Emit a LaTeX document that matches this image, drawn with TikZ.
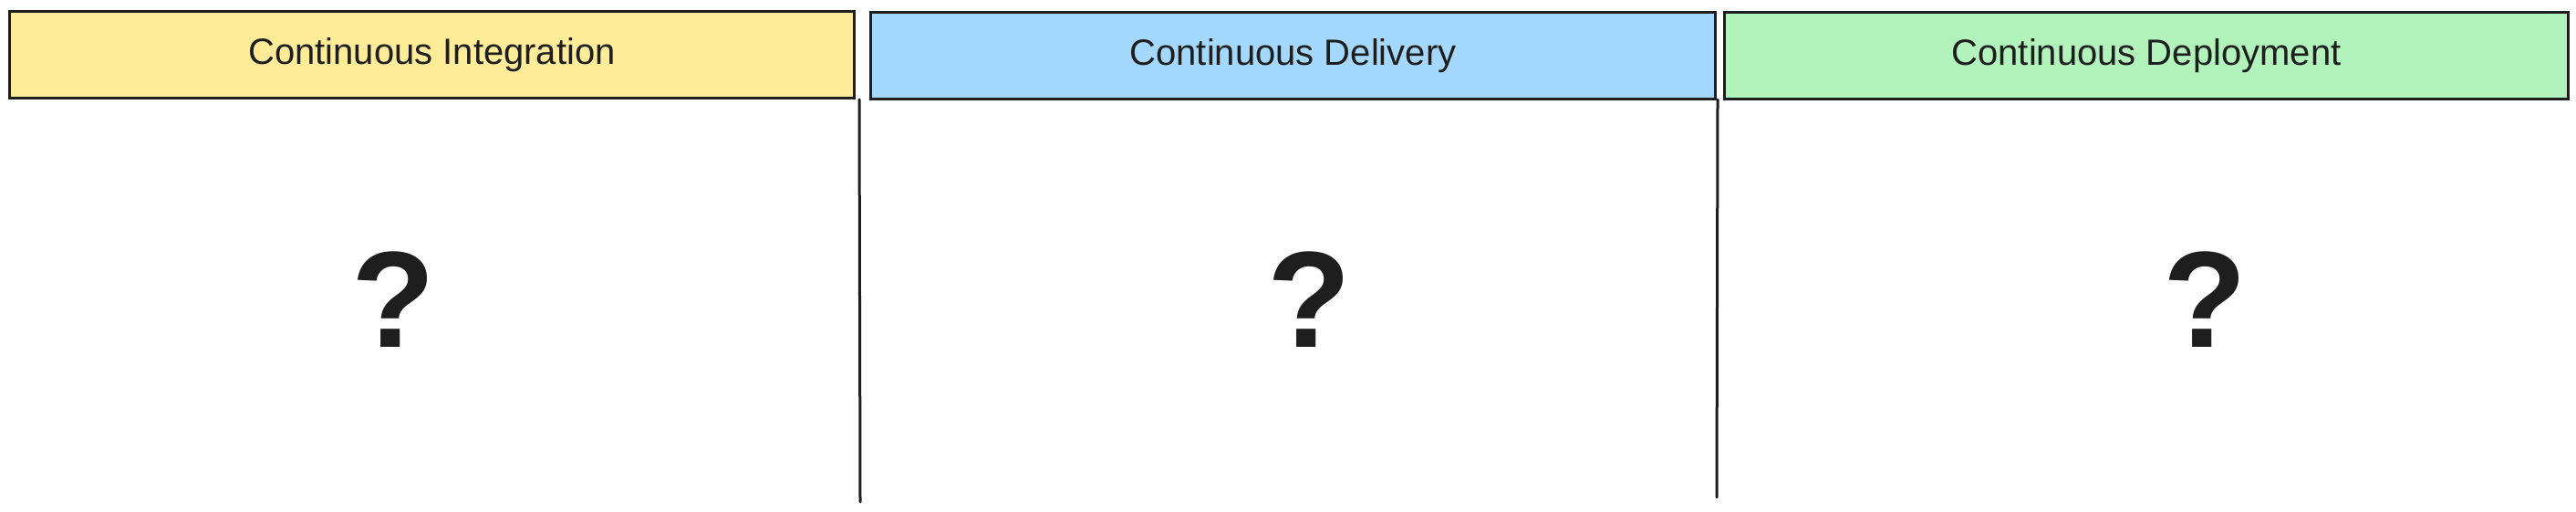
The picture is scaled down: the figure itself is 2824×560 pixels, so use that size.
\documentclass[tikz,border=0pt]{standalone}
\usepackage{fontspec}
\setmainfont{Liberation Sans}
\definecolor{ink}{HTML}{1E1E1E}
\definecolor{ciyellow}{HTML}{FFEC99}
\definecolor{cdblue}{HTML}{A5D8FF}
\definecolor{cdgreen}{HTML}{B2F2BB}
\tikzset{
  header/.style={draw=ink, line width=3pt, inner sep=0pt, anchor=north west,
    font=\fontsize{40}{46}\selectfont, text=ink},
  divider/.style={draw=ink, line width=3pt, line cap=round},
  qmark/.style={text=ink, inner sep=0pt, font=\fontsize{150}{150}\selectfont\bfseries}
}
\begin{document}
\begin{tikzpicture}[x=1pt,y=-1pt]
\useasboundingbox[fill=white] (0,0) rectangle (2824,560);
\node[header, fill=ciyellow, minimum width=926pt, minimum height=95pt] (ci) at (9,11) {Continuous Integration};
\node[header, fill=cdblue, minimum width=926pt, minimum height=95pt] (cd) at (953,12) {Continuous Delivery};
\node[header, fill=cdgreen, minimum width=925pt, minimum height=95pt] (cdp) at (1889,12) {Continuous Deployment};
\coordinate (d1t) at (942,109);
\coordinate (d1b) at (943,550);
\coordinate (d2t) at (1883,109);
\coordinate (d2b) at (1882,545);
\draw[divider] (d1t) -- (d1b);
\draw[divider] (d2t) -- (d2b);
\node[qmark] (q1) at (431,328) {?};
\node[qmark] (q2) at (1435,328) {?};
\node[qmark] (q3) at (2417,328) {?};
\end{tikzpicture}
\end{document}
